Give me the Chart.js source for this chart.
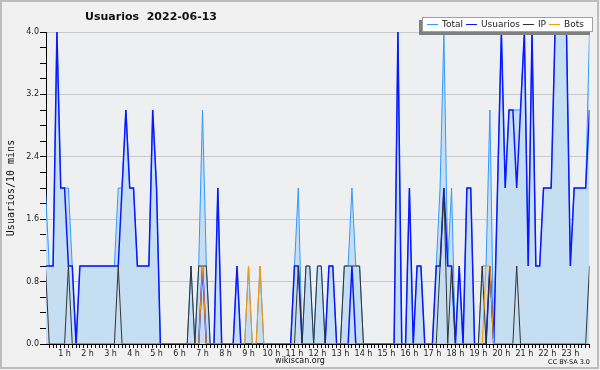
<!DOCTYPE html>
<html>
<head>
<meta charset="utf-8">
<script src="https://cdn.jsdelivr.net/npm/chart.js@4"></script>
<style>
  html, body { margin: 0; padding: 0; background: #f1f1f1; }
</style>
</head>
<body>
<canvas id="chart" width="600" height="370"></canvas>
<script>
// 10-minute slots of the day, 0 = 00:00 ... 143 = 23:50
const slots = Array.from({ length: 144 }, (_, i) => i);

const hourLabels = ['1 h', '2 h', '3 h', '4 h', '5 h', '6 h', '7 h', '8 h', '9 h', '10 h', '11 h', '12 h',
                    '13 h', '14 h', '15 h', '16 h', '17 h', '18 h', '19 h', '20 h', '21 h', '22 h', '23 h'];

const yTicks = [0, 0.2, 0.4, 0.6, 0.8, 1.0, 1.2, 1.4, 1.6, 1.8, 2.0, 2.2, 2.4, 2.6, 2.8, 3.0, 3.2, 3.4, 3.6, 3.8, 4.0];

const total = [
  2, 2, 1, 1, 4, 2, 2, 2, 1, 0,
  1, 1, 1, 1, 1, 1, 1, 1, 1, 1,
  2, 2, 3, 2, 2, 1, 1, 1, 1, 3,
  2, 0, 0, 0, 0, 0, 0, 0, 0, 1,
  0, 1, 3, 1, 0, 0, 2, 0, 0, 0,
  0, 1, 0, 0, 1, 0, 0, 1, 0, 0,
  0, 0, 0, 0, 0, 0, 1, 2, 0, 1,
  1, 0, 1, 1, 0, 1, 1, 0, 0, 1,
  1, 2, 1, 1, 0, 0, 0, 0, 0, 0,
  0, 0, 0, 4, 0, 0, 2, 0, 1, 1,
  0, 0, 0, 1, 2, 4, 1, 2, 0, 1,
  0, 2, 2, 0, 0, 1, 1, 3, 0, 2,
  4, 2, 3, 3, 3, 3, 4, 1, 4, 1,
  1, 2, 2, 2, 4, 4, 4, 4, 1, 2,
  2, 2, 2, 4
];

const usuarios = [
  1, 1, 1, 1, 4, 2, 2, 1, 1, 0,
  1, 1, 1, 1, 1, 1, 1, 1, 1, 1,
  1, 2, 3, 2, 2, 1, 1, 1, 1, 3,
  2, 0, 0, 0, 0, 0, 0, 0, 0, 0,
  0, 0, 1, 0, 0, 0, 2, 0, 0, 0,
  0, 1, 0, 0, 0, 0, 0, 0, 0, 0,
  0, 0, 0, 0, 0, 0, 1, 1, 0, 0,
  0, 0, 0, 0, 0, 1, 1, 0, 0, 0,
  0, 1, 0, 0, 0, 0, 0, 0, 0, 0,
  0, 0, 0, 4, 0, 0, 2, 0, 1, 1,
  0, 0, 0, 1, 1, 2, 1, 1, 0, 1,
  0, 2, 2, 0, 0, 0, 0, 1, 0, 2,
  4, 2, 3, 3, 2, 3, 4, 1, 4, 1,
  1, 2, 2, 2, 4, 4, 4, 4, 1, 2,
  2, 2, 2, 3
];

const ip = [
  1, 1, 0, 0, 0, 0, 0, 1, 0, 0,
  0, 0, 0, 0, 0, 0, 0, 0, 0, 0,
  1, 0, 0, 0, 0, 0, 0, 0, 0, 0,
  0, 0, 0, 0, 0, 0, 0, 0, 0, 1,
  0, 1, 1, 1, 0, 0, 0, 0, 0, 0,
  0, 0, 0, 0, 0, 0, 0, 0, 0, 0,
  0, 0, 0, 0, 0, 0, 0, 1, 0, 1,
  1, 0, 1, 1, 0, 0, 0, 0, 0, 1,
  1, 1, 1, 1, 0, 0, 0, 0, 0, 0,
  0, 0, 0, 0, 0, 0, 0, 0, 0, 0,
  0, 0, 0, 0, 1, 2, 0, 1, 0, 0,
  0, 0, 0, 0, 0, 1, 0, 1, 0, 0,
  0, 0, 0, 0, 1, 0, 0, 0, 0, 0,
  0, 0, 0, 0, 0, 0, 0, 0, 0, 0,
  0, 0, 0, 1
];

const bots = [
  0, 0, 0, 0, 0, 0, 0, 0, 0, 0,
  0, 0, 0, 0, 0, 0, 0, 0, 0, 0,
  0, 0, 0, 0, 0, 0, 0, 0, 0, 0,
  0, 0, 0, 0, 0, 0, 0, 0, 0, 0,
  0, 0, 1, 0, 0, 0, 0, 0, 0, 0,
  0, 0, 0, 0, 1, 0, 0, 1, 0, 0,
  0, 0, 0, 0, 0, 0, 0, 0, 0, 0,
  0, 0, 0, 0, 0, 0, 0, 0, 0, 0,
  0, 0, 0, 0, 0, 0, 0, 0, 0, 0,
  0, 0, 0, 0, 0, 0, 0, 0, 0, 0,
  0, 0, 0, 0, 0, 0, 0, 0, 0, 0,
  0, 0, 0, 0, 0, 0, 1, 1, 0, 0,
  0, 0, 0, 0, 0, 0, 0, 0, 0, 0,
  0, 0, 0, 0, 0, 0, 0, 0, 0, 0,
  0, 0, 0, 0
];

const toPoints = vals => vals.map((v, i) => ({ x: slots[i], y: v }));
const isMajor = v => Math.abs(v / 0.8 - Math.round(v / 0.8)) < 1e-6;
const tickFont = { family: 'DejaVu Sans', size: 8 };

// background, frame, title, legend and footer texts
const decor = {
    id: 'decor',
    beforeDraw(chart) {
        const { ctx, chartArea: a } = chart;
        ctx.save();
        ctx.fillStyle = '#f1f1f1';
        ctx.fillRect(0, 0, chart.width, chart.height);
        ctx.strokeStyle = '#bdbdbd';
        ctx.lineWidth = 2;
        ctx.strokeRect(1, 1, chart.width - 3, chart.height - 3);
        ctx.fillStyle = '#edeff1';
        ctx.fillRect(a.left, a.top, a.right - a.left, a.bottom - a.top);
        ctx.restore();
    },
    afterDraw(chart) {
        const { ctx, chartArea: a } = chart;
        ctx.save();
        ctx.fillStyle = '#111';
        ctx.textBaseline = 'middle';

        ctx.font = 'bold 11px "DejaVu Sans"';
        ctx.textAlign = 'center';
        ctx.fillText('Usuarios  2022-06-13', 151, 17);

        ctx.font = '10px "DejaVu Sans Mono"';
        ctx.save();
        ctx.translate(11, (a.top + a.bottom) / 2);
        ctx.rotate(-Math.PI / 2);
        ctx.fillText('Usuarios/10 mins', 0, 0);
        ctx.restore();

        ctx.font = '8px "DejaVu Sans"';
        ctx.fillText('wikiscan.org', 300, 361);
        ctx.font = '6.5px "DejaVu Sans"';
        ctx.textAlign = 'right';
        ctx.fillText('CC BY-SA 3.0', 590, 362);

        // legend box with shadow
        ctx.fillStyle = '#7f7f7f';
        ctx.fillRect(419, 20, 171, 15);
        ctx.fillStyle = '#fff';
        ctx.fillRect(422, 17, 171, 15);
        ctx.strokeStyle = '#a0a0a0';
        ctx.lineWidth = 1;
        ctx.strokeRect(422.5, 17.5, 170, 14);

        ctx.font = '9px "DejaVu Sans"';
        ctx.textAlign = 'left';
        let x = 427;
        chart.data.datasets.forEach(ds => {
            ctx.strokeStyle = ds.borderColor;
            ctx.beginPath();
            ctx.moveTo(x, 24.5);
            ctx.lineTo(x + 11, 24.5);
            ctx.stroke();
            x += 15;
            ctx.fillStyle = '#222';
            ctx.fillText(ds.label, x, 25);
            x += ctx.measureText(ds.label).width + 3;
        });
        ctx.restore();
    }
};

new Chart(document.getElementById('chart'), {
    type: 'line',
    data: {
        datasets: [
            { label: 'Total', data: toPoints(total), borderColor: '#3399ff', backgroundColor: '#c5def1',
              fill: 'origin', borderWidth: 1, order: 4 },
            { label: 'Usuarios', data: toPoints(usuarios), borderColor: '#0a18ff', borderWidth: 1.5, order: 3 },
            { label: 'IP', data: toPoints(ip), borderColor: '#333333', borderWidth: 1, order: 2 },
            { label: 'Bots', data: toPoints(bots), borderColor: '#ff9900', borderWidth: 1, order: 1 }
        ]
    },
    options: {
        responsive: false,
        animation: false,
        devicePixelRatio: 1,
        elements: { point: { radius: 0 }, line: { tension: 0 } },
        layout: { padding: { top: 32, right: 10.5, left: 0, bottom: 0 } },
        plugins: {
            legend: { display: false },
            title: { display: false },
            tooltip: { enabled: false }
        },
        scales: {
            x: {
                type: 'linear',
                min: 1.15,
                max: 143,
                afterFit: s => { s.height = 26; },
                afterBuildTicks: s => { s.ticks = slots.slice(2).map(v => ({ value: v })); },
                ticks: {
                    autoSkip: false,
                    maxRotation: 0,
                    padding: 1,
                    font: tickFont,
                    color: '#222',
                    callback: v => (v % 6 === 0 ? hourLabels[v / 6 - 1] : '')
                },
                grid: { drawOnChartArea: false, tickLength: 4, color: '#000', tickColor: '#000' },
                border: { color: '#000', width: 1 }
            },
            y: {
                min: 0,
                max: 4,
                afterFit: s => { s.width = 46; },
                afterBuildTicks: s => { s.ticks = yTicks.map(v => ({ value: v })); },
                ticks: {
                    autoSkip: false,
                    padding: 1,
                    font: tickFont,
                    color: '#222',
                    callback: v => (isMajor(v) ? v.toFixed(1) : '')
                },
                grid: {
                    color: c => (c.tick && isMajor(c.tick.value) ? '#c9c9c9' : 'rgba(0,0,0,0)'),
                    tickColor: '#000',
                    tickLength: 6
                },
                border: { color: '#000', width: 1 }
            }
        }
    },
    plugins: [decor]
});
</script>
</body>
</html>
